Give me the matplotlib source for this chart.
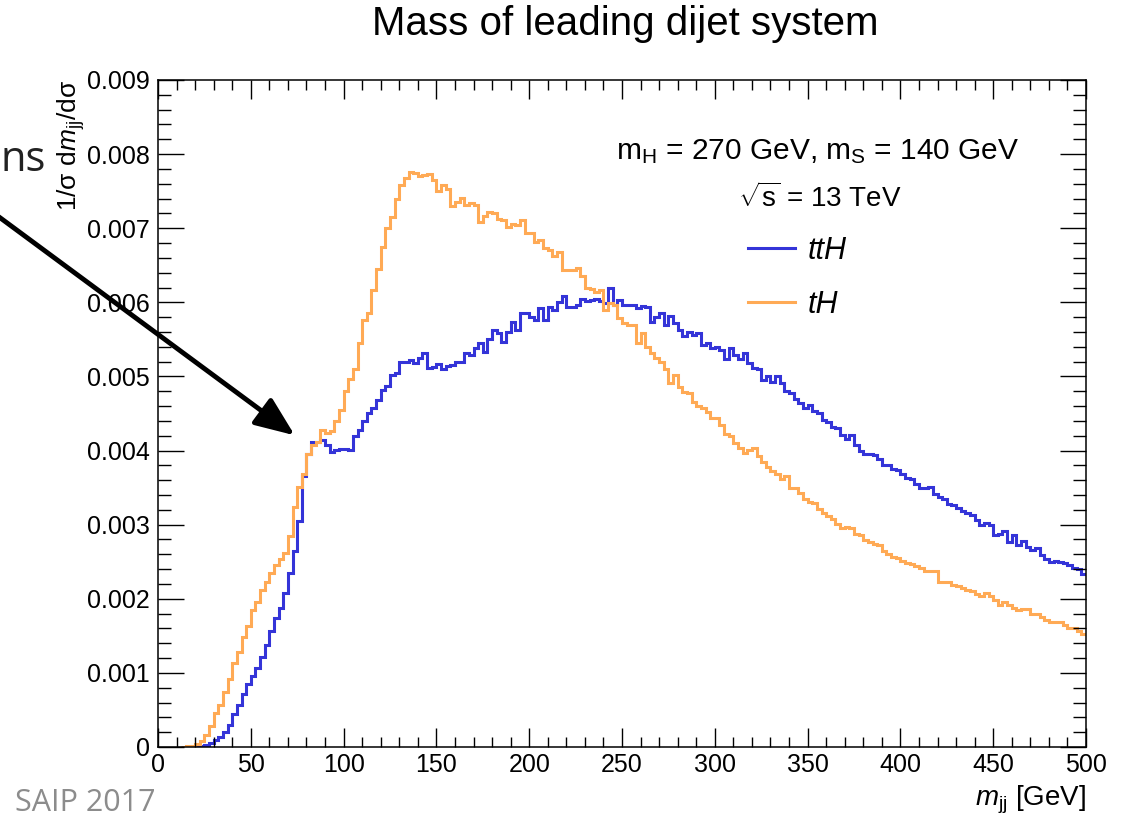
import numpy as np
import matplotlib
matplotlib.use("Agg")
import matplotlib.pyplot as plt
from matplotlib.ticker import MultipleLocator, FuncFormatter
from matplotlib.lines import Line2D
from matplotlib.patches import FancyArrowPatch

# normalised m_jj distributions, 2.5 GeV bins from 0 to 500 GeV, in units of 1e-4
bin_edges = np.arange(0, 502.5, 2.5)

tth = [
    0, 0, 0, 0, 0, 0, 0, 0, 0.05, 0.1,
    0.3, 0.6, 0.9, 1.3, 2.0, 3.0, 4.4, 5.6, 7.2, 8.5,
    9.6, 10.7, 12.2, 13.8, 15.6, 17.4, 18.8, 20.8, 23.5, 26.5,
    30.5, 36.5, 39.5, 41.2, 41.2, 41.4, 40.8, 39.8, 40.1, 40.2,
    40.2, 40.1, 41.9, 42.8, 44.0, 45.0, 45.7, 46.8, 48.2, 48.7,
    50.2, 50.4, 52.0, 52.0, 52.2, 51.8, 52.5, 53.1, 51.1, 51.3,
    51.7, 51.0, 51.4, 51.6, 52.0, 52.0, 53.1, 52.9, 53.8, 54.5,
    53.3, 55.0, 56.3, 55.9, 54.6, 56.0, 57.3, 56.3, 58.5, 58.5,
    58.0, 57.6, 59.2, 57.6, 59.4, 59.0, 60.1, 60.8, 59.4, 59.4,
    59.7, 60.5, 60.2, 60.3, 60.4, 60.2, 59.9, 61.9, 59.6, 60.3,
    59.7, 59.7, 59.6, 59.2, 59.5, 59.4, 57.4, 58.0, 58.5, 57.0,
    58.2, 57.2, 56.3, 55.4, 56.0, 55.6, 55.8, 54.3, 54.5, 53.8,
    54.0, 53.6, 52.4, 53.8, 52.9, 52.3, 53.1, 51.8, 51.1, 51.0,
    49.5, 50.0, 49.3, 50.0, 49.1, 48.0, 47.8, 47.0, 46.4, 45.7,
    46.2, 45.3, 45.0, 44.1, 43.9, 43.2, 43.0, 42.1, 41.5, 42.1,
    40.8, 40.0, 39.6, 39.6, 39.4, 38.8, 38.1, 38.1, 37.5, 37.4,
    36.8, 36.3, 36.1, 35.5, 34.9, 34.9, 35.1, 34.2, 33.8, 33.4,
    32.8, 32.6, 32.2, 31.9, 31.6, 31.3, 30.6, 30.0, 30.2, 30.0,
    28.6, 28.8, 29.1, 27.7, 28.6, 27.3, 27.8, 27.0, 26.6, 26.8,
    25.9, 25.3, 24.9, 25.1, 25.0, 24.8, 24.5, 24.1, 24.0, 23.3,
]

th = [
    0, 0, 0, 0, 0, 0.05, 0.1, 0.2, 0.4, 0.8,
    1.6, 2.8, 4.6, 5.6, 7.4, 9.2, 11.3, 12.8, 14.8, 16.3,
    18.5, 19.6, 21.2, 22.3, 23.5, 24.6, 25.4, 26.2, 28.5, 32.4,
    35.1, 36.8, 39.5, 40.8, 41.2, 42.8, 42.4, 42.6, 44.0, 45.5,
    48.0, 49.6, 51.0, 54.5, 57.6, 58.5, 61.7, 64.5, 67.5, 70.0,
    71.5, 74.0, 75.8, 76.8, 77.6, 77.4, 77.0, 77.2, 77.3, 76.5,
    75.0, 75.8, 75.3, 73.0, 73.6, 74.1, 73.2, 73.4, 73.2, 70.9,
    71.6, 72.2, 72.0, 71.3, 71.1, 70.2, 70.6, 70.4, 71.1, 69.3,
    69.3, 68.2, 68.4, 67.3, 67.1, 66.2, 66.8, 64.4, 64.4, 64.4,
    64.6, 63.5, 62.0, 61.8, 61.4, 61.7, 59.0, 59.9, 59.6, 57.9,
    57.2, 56.9, 56.9, 54.5, 55.8, 54.0, 53.1, 52.5, 52.0, 51.0,
    49.1, 50.2, 48.6, 47.9, 47.7, 46.6, 46.0, 45.7, 45.2, 44.4,
    44.4, 43.4, 42.3, 42.0, 41.0, 40.3, 39.7, 40.1, 40.3, 39.2,
    38.4, 37.8, 37.3, 36.9, 36.1, 36.5, 34.9, 35.0, 34.3, 33.4,
    33.1, 32.9, 32.1, 31.6, 31.2, 30.8, 30.1, 29.6, 29.7, 29.6,
    28.8, 28.6, 27.9, 27.6, 27.4, 27.3, 26.5, 26.0, 25.7, 25.5,
    25.1, 24.8, 24.7, 24.4, 24.1, 23.8, 23.7, 23.7, 22.3, 22.3,
    22.2, 21.9, 21.7, 21.5, 21.2, 21.0, 20.6, 20.4, 20.8, 20.4,
    19.8, 19.2, 19.5, 19.2, 18.7, 18.5, 18.6, 18.6, 18.0, 17.9,
    17.6, 17.1, 16.9, 16.8, 16.9, 16.4, 16.1, 16.0, 15.6, 15.2,
]

series_labels = ["ttH", "tH"]
BLUE = "#3434d8"
ORANGE = "#ffaa55"

plt.rcParams["font.family"] = ["Liberation Sans", "DejaVu Sans"]
plt.rcParams["mathtext.fontset"] = "custom"
plt.rcParams["mathtext.rm"] = "Liberation Sans"
plt.rcParams["mathtext.it"] = "Liberation Sans:italic"

W, H = 1125, 822
fig = plt.figure(figsize=(W / 100, H / 100), dpi=100)
ax = fig.add_axes([158 / W, 1 - 747 / H, (1086 - 158) / W, (747 - 80) / H])


def as_hist(v):
    v = np.array(v, dtype=float) * 1e-4
    return np.where(v > 0, v, np.nan)


ax.stairs(as_hist(tth), bin_edges, color=BLUE, lw=2.2, baseline=None)
ax.stairs(as_hist(th), bin_edges, color=ORANGE, lw=2.2, baseline=None)

ax.set_xlim(0, 500)
ax.set_ylim(0, 0.009)

# ROOT style ticks on all sides
ax.xaxis.set_major_locator(MultipleLocator(50))
ax.xaxis.set_minor_locator(MultipleLocator(10))
ax.yaxis.set_major_locator(MultipleLocator(0.001))
ax.yaxis.set_minor_locator(MultipleLocator(0.0002))
ax.tick_params(axis="both", which="both", direction="in", top=True, right=True, width=1.0)
ax.tick_params(axis="x", which="major", length=14, labelsize=18, pad=4)
ax.tick_params(axis="x", which="minor", length=7)
ax.tick_params(axis="y", which="major", length=19, labelsize=18, pad=6)
ax.tick_params(axis="y", which="minor", length=9.5)
ax.yaxis.set_major_formatter(FuncFormatter(lambda v, p: "0" if abs(v) < 1e-9 else f"{v:.3f}"))
for s in ax.spines.values():
    s.set_linewidth(1.1)

fig.text(625 / W, 1 - 24 / H, "Mass of leading dijet system", ha="center", va="center", fontsize=29)

fig.text(71 / W, 1 - 80 / H, r"1/σ d$\it{m}_{\rm jj}$/dσ", rotation=90,
         ha="center", va="top", fontsize=19)
fig.text(1086 / W, 1 - 800 / H, r"$\it{m}_{\rm jj}$ [GeV]", ha="right", va="center", fontsize=20)

fig.text(818 / W, 1 - 152 / H, r"m$_{\rm H}$ = 270 GeV, m$_{\rm S}$ = 140 GeV",
         ha="center", va="center", fontsize=21.5)
fig.text(820 / W, 1 - 198 / H, r"$\sqrt{\rm s}$ = 13 TeV", ha="center", va="center", fontsize=20)

handles = [Line2D([], [], color=BLUE, lw=2.2), Line2D([], [], color=ORANGE, lw=2.2)]
ax.legend(handles, series_labels, loc="upper left", bbox_to_anchor=(748 / W, 1 - 236 / H),
          bbox_transform=fig.transFigure, frameon=False, prop={"style": "italic", "size": 22},
          handlelength=1.55, handletextpad=0.4, labelspacing=0.78, borderpad=0, borderaxespad=0)

# slide decorations
fig.text(0, 1 - 160 / H, "ns", ha="left", va="center", fontsize=30,
         family=["Open Sans", "DejaVu Sans"], color="#222222")
fig.text(15 / W, 1 - 803 / H, "SAIP 2017", ha="left", va="center", fontsize=22,
         family=["Open Sans", "DejaVu Sans"], color="#8c8c8c")
fig.add_artist(FancyArrowPatch(
    (-5 / W, 1 - 214 / H), (297 / W, 1 - 437 / H), transform=fig.transFigure,
    arrowstyle="-|>,head_length=1.1,head_width=0.45", mutation_scale=22, lw=3.5, color="black",
    clip_on=False))

fig.savefig("out.png", dpi=100)
